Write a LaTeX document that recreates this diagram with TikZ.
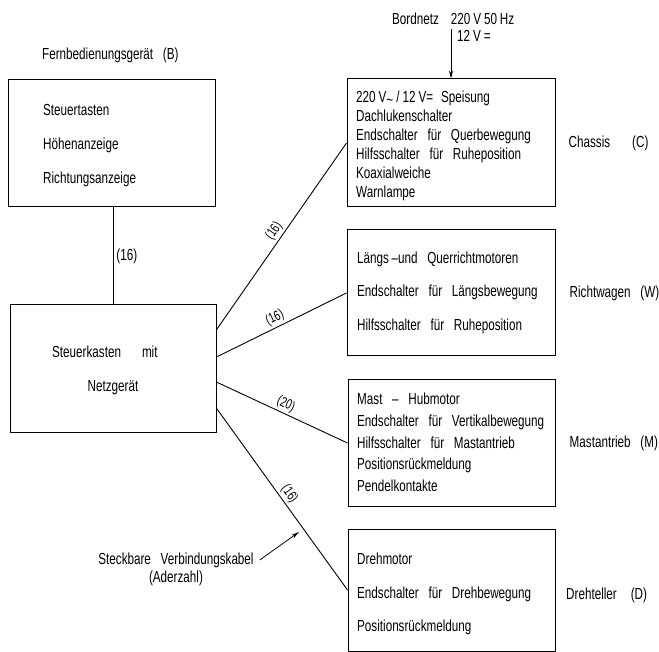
\documentclass[tikz,border=0pt]{standalone}
\usepackage{fontspec}
\setmainfont{Liberation Sans}[FakeStretch=0.73,WordSpace=3]
\usetikzlibrary{positioning,calc,arrows.meta}

\newcommand{\ns}{\hspace{3pt}}
\tikzset{
  box/.style={draw,line width=1pt,inner sep=0pt},
  txt/.style={anchor=west,inner sep=0pt,text height=12pt,text depth=3pt},
  wire/.style={line width=0.9pt},
  arr/.style={line width=0.8pt,-{Stealth[length=8pt,width=4pt]}},
  ader/.style={font=\fontsize{14}{14}\selectfont,sloped,above,inner sep=2pt}
}

\begin{document}
\begin{tikzpicture}[x=1pt,y=-1pt,font=\fontsize{16}{19}\selectfont]
\useasboundingbox (0,0) rectangle (659,652);
\clip (0,0) rectangle (659,652);

% Fernbedienungsgeraet
\node[txt] (fb) at (42,55) {Fernbedienungsgerät (B)};
\node[box,minimum width=207pt,minimum height=127pt] (B) at (111.5,143.5) {};
\node[txt] (b1) at (43,111) {Steuertasten};
\node[txt] (b2) at (43,145) {Höhenanzeige};
\node[txt] (b3) at (43,179) {Richtungsanzeige};

% Steuerkasten
\node[box,minimum width=206pt,minimum height=127pt] (K) at (113,368.5) {};
\node[txt] (k1) at (52,353) {Steuerkasten\hspace{21pt}mit};
\node[txt,anchor=center] (k2) at (113,387) {Netzgerät};

% Chassis
\node[box,minimum width=208pt,minimum height=128pt] (C) at (451,143) {};
\foreach \t [count=\i] in {{220\ns V\raisebox{-3pt}{\textasciitilde}\ns/\ns12\ns V=\hspace{8pt}Speisung},
  {Dachlukenschalter},{Endschalter für Querbewegung},{Hilfsschalter für Ruheposition},
  {Koaxialweiche},{Warnlampe}}
  \node[txt] (c\i) at (356,{98+19*(\i-1)}) {\t};
\node[txt,right=13pt of C] (chs) {Chassis\hspace{22pt}(C)};
\node[txt] (bn) at (392,20) {Bordnetz\hspace{12pt}220\ns V\ns 50\,Hz};
\node[txt] (v12) at (457,37) {12\ns V\ns =};
\draw[arr] (C.north |- v12.north) -- (C.north);

% Richtwagen
\node[box,minimum width=208pt,minimum height=126pt] (W) at (451,293) {};
\foreach \t [count=\i] in {{Längs\,–und Querrichtmotoren},{Endschalter für Längsbewegung},
  {Hilfsschalter für Ruheposition}}
  \node[txt] (w\i) at (357,{259+33.5*(\i-1)}) {\t};
\node[txt,right=14pt of W] (rw) {Richtwagen (W)};

% Mastantrieb
\node[box,minimum width=207pt,minimum height=126pt] (M) at (451.5,443) {};
\foreach \t [count=\i] in {{Mast – Hubmotor},{Endschalter für Vertikalbewegung},
  {Hilfsschalter für Mastantrieb},{Positionsrückmeldung},{Pendelkontakte}}
  \node[txt] (m\i) at (357,{400+21.75*(\i-1)}) {\t};
\node[txt,right=14pt of M] (ma) {Mastantrieb (M)};

% Drehteller
\node[box,minimum width=207pt,minimum height=122pt] (D) at (451.5,590) {};
\foreach \t [count=\i] in {{Drehmotor},{Endschalter für Drehbewegung},{Positionsrückmeldung}}
  \node[txt] (d\i) at (357,{560+33.5*(\i-1)}) {\t};
\node[txt] (dt) at (566,595) {Drehteller\hspace{14pt}(D)};

% Kabel
\coordinate (p1) at ($(K.north east)!0.197!(K.south east)$);
\coordinate (p2) at ($(K.north east)!0.41!(K.south east)$);
\coordinate (p3) at ($(K.north east)!0.606!(K.south east)$);
\coordinate (p4) at ($(K.north east)!0.811!(K.south east)$);
\draw[wire] (B.south -| K.north) -- node[right,inner sep=3pt]{(16)} (K.north);
\draw[wire] (p1) -- node[ader,pos=0.5]{(16)} (C.west);
\draw[wire] (p2) -- node[ader,pos=0.48]{(16)} (W.west);
\draw[wire] (p3) -- node[ader,pos=0.5]{(20)} (M.west);
\draw[wire] (p4) -- node[ader,pos=0.5]{(16)} (D.west);

\node[txt,anchor=center] (kab) at (176,560) {Steckbare Verbindungskabel};
\node[txt,anchor=center] (adz) at (176,578) {(Aderzahl)};
\coordinate (kt) at (299,532);
\draw[arr] ([xshift=6pt]kab.east) -- (kt);
\end{tikzpicture}
\end{document}
